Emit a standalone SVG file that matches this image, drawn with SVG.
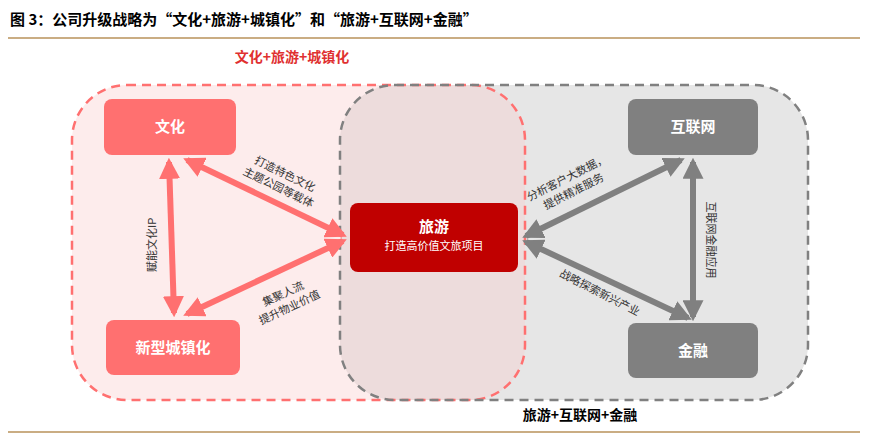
<svg xmlns="http://www.w3.org/2000/svg" width="869" height="437" viewBox="0 0 869 437">
<defs>
<style>
text{font-family:"Noto Sans CJK SC","Liberation Sans",sans-serif}
.nt{fill:#fff;font-size:15px;text-anchor:middle;font-weight:bold}
.lb{fill:#333;font-size:11px;text-anchor:middle}
.ra{stroke:#ff7070;stroke-width:6;fill:none;marker-start:url(#mr);marker-end:url(#mr)}
.ga{stroke:#808080;stroke-width:6;fill:none;marker-start:url(#mg);marker-end:url(#mg)}
</style>
<marker id="mr" viewBox="0 0 10 10" refX="8" refY="5" markerWidth="3.5" markerHeight="3.5" orient="auto-start-reverse"><path d="M0,0L10,5L0,10z" fill="#ff7070"/></marker>
<marker id="mg" viewBox="0 0 10 10" refX="8" refY="5" markerWidth="3.5" markerHeight="3.5" orient="auto-start-reverse"><path d="M0,0L10,5L0,10z" fill="#808080"/></marker>
</defs>
<rect width="869" height="437" fill="#fff"/>
<text x="10" y="25" font-size="15" font-weight="bold" fill="#000">图 3：公司升级战略为“文化+旅游+城镇化”和“旅游+互联网+金融”</text>
<line x1="8" y1="38" x2="860" y2="38" stroke="#b8925a" stroke-width="1.5"/>
<line x1="8" y1="432" x2="860" y2="432" stroke="#b8925a" stroke-width="1.5"/>
<g id="regions">
<rect x="340" y="85" width="468" height="315" rx="55" fill="#e6e6e6"/>
<rect x="72" y="85" width="453" height="315" rx="55" fill="#f8c8c8" fill-opacity="0.35" stroke="#ff7070" stroke-width="2.5" stroke-dasharray="9,6"/>
<rect x="340" y="85" width="468" height="315" rx="55" fill="none" stroke="#808080" stroke-width="2.5" stroke-dasharray="9,6"/>
<text x="292" y="62" font-size="14" font-weight="bold" fill="#e03030" text-anchor="middle">文化+旅游+城镇化</text>
<text x="580" y="420" font-size="14" font-weight="bold" fill="#000" text-anchor="middle">旅游+互联网+金融</text>
</g>
<g id="connectors">
<path class="ra" d="M169,162L174,313"/>
<path class="ra" d="M187,160L343,235"/>
<path class="ra" d="M343,241L187,314"/>
<path class="ga" d="M526,236L681,160"/>
<path class="ga" d="M526,242L688,318"/>
<path class="ga" d="M693,162L693,317"/>
<text class="lb" transform="translate(282,180) rotate(26)"><tspan x="0" y="-3">打造特色文化</tspan><tspan x="0" y="12">主题公园等载体</tspan></text>
<text class="lb" transform="translate(156,245) rotate(-90)">赋能文化IP</text>
<text class="lb" transform="translate(286,300) rotate(-25)"><tspan x="0" y="-3">集聚人流</tspan><tspan x="0" y="12">提升物业价值</tspan></text>
<text class="lb" transform="translate(570,184) rotate(-27)"><tspan x="0" y="-3">分析客户大数据，</tspan><tspan x="0" y="12">提供精准服务</tspan></text>
<text class="lb" transform="translate(598,296) rotate(27)">战略探索新兴产业</text>
<text class="lb" transform="translate(707,240) rotate(90)">互联网金融应用</text>
</g>
<g id="n-wenhua"><rect x="104" y="99" width="132" height="56" rx="8" fill="#ff7070"/><text class="nt" x="170" y="132">文化</text></g>
<g id="n-chengzhen"><rect x="106" y="320" width="134" height="55" rx="8" fill="#ff7070"/><text class="nt" x="173" y="353">新型城镇化</text></g>
<g id="n-lvyou"><rect x="350" y="203" width="168" height="69" rx="8" fill="#c00000"/><text class="nt" x="434" y="232">旅游</text><text x="434" y="250" font-size="11" fill="#fff" text-anchor="middle">打造高价值文旅项目</text></g>
<g id="n-hulianwang"><rect x="628" y="99" width="130" height="56" rx="8" fill="#808080"/><text class="nt" x="693" y="132">互联网</text></g>
<g id="n-jinrong"><rect x="628" y="323" width="130" height="55" rx="8" fill="#808080"/><text class="nt" x="693" y="356">金融</text></g>
</svg>
